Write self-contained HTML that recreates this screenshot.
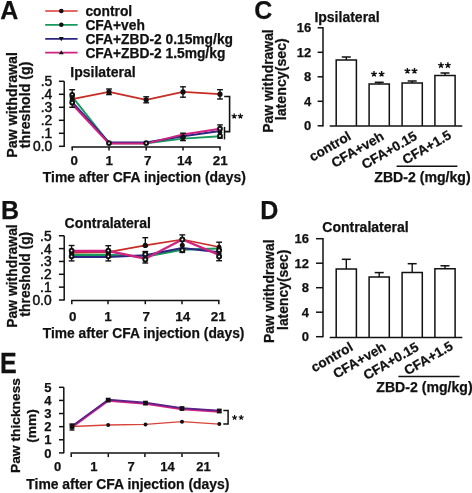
<!DOCTYPE html>
<html><head><meta charset="utf-8"><style>
html,body{margin:0;padding:0;background:#fff;}
body{width:472px;height:493px;overflow:hidden;}
svg{display:block;will-change:transform;font-family:"Liberation Sans",sans-serif;}
text{fill:#111;stroke:#111;stroke-width:0.25px;}
</style></head><body>
<svg width="472" height="493" viewBox="0 0 472 493">
<text x="0.3" y="18.8" font-size="25" text-anchor="start" font-weight="bold" >A</text>
<text x="1.0" y="218.7" font-size="25" text-anchor="start" font-weight="bold" >B</text>
<text x="254.3" y="18.9" font-size="25" text-anchor="start" font-weight="bold" >C</text>
<text x="260.3" y="219.2" font-size="25" text-anchor="start" font-weight="bold" >D</text>
<text x="0" y="373.3" font-size="25" font-weight="bold" transform="translate(0 373.3) scale(1 1.16) translate(0 -373.3)">E</text>
<line x1="45.2" y1="11.0" x2="77.6" y2="11.0" stroke="#d8392e" stroke-width="1.7"/>
<circle cx="61.30" cy="11.00" r="2.3" fill="#111"/>
<text x="85.4" y="15.9" font-size="13.8" text-anchor="start" font-weight="bold" >control</text>
<line x1="45.2" y1="24.8" x2="77.6" y2="24.8" stroke="#17995c" stroke-width="1.7"/>
<circle cx="61.30" cy="24.80" r="2.3" fill="#111"/>
<text x="85.4" y="29.700000000000003" font-size="13.8" text-anchor="start" font-weight="bold" >CFA+veh</text>
<line x1="45.2" y1="38.8" x2="77.6" y2="38.8" stroke="#2c2682" stroke-width="1.7"/>
<polygon points="58.90,37.12 63.70,37.12 61.30,41.20" fill="#111"/>
<text x="85.4" y="43.699999999999996" font-size="13.8" text-anchor="start" font-weight="bold" >CFA+ZBD-2 0.15mg/kg</text>
<line x1="45.2" y1="52.6" x2="77.6" y2="52.6" stroke="#d02282" stroke-width="1.7"/>
<polygon points="58.90,54.28 63.70,54.28 61.30,50.20" fill="#111"/>
<text x="85.4" y="57.5" font-size="13.8" text-anchor="start" font-weight="bold" >CFA+ZBD-2 1.5mg/kg</text>
<line x1="64.2" y1="81.30000000000001" x2="64.2" y2="146.9" stroke="#111" stroke-width="1.5"/>
<line x1="58.900000000000006" y1="146.3" x2="64.2" y2="146.3" stroke="#111" stroke-width="1.5"/>
<text x="52.3" y="151.20000000000002" font-size="13.8" text-anchor="end" font-weight="normal" style="stroke-width:0.5px">0.0</text>
<line x1="58.900000000000006" y1="133.3" x2="64.2" y2="133.3" stroke="#111" stroke-width="1.5"/>
<text x="52.3" y="138.20000000000002" font-size="13.8" text-anchor="end" font-weight="normal" style="stroke-width:0.5px">.1</text>
<line x1="58.900000000000006" y1="120.30000000000001" x2="64.2" y2="120.30000000000001" stroke="#111" stroke-width="1.5"/>
<text x="52.3" y="125.20000000000002" font-size="13.8" text-anchor="end" font-weight="normal" style="stroke-width:0.5px">.2</text>
<line x1="58.900000000000006" y1="107.30000000000001" x2="64.2" y2="107.30000000000001" stroke="#111" stroke-width="1.5"/>
<text x="52.3" y="112.20000000000002" font-size="13.8" text-anchor="end" font-weight="normal" style="stroke-width:0.5px">.3</text>
<line x1="58.900000000000006" y1="94.30000000000001" x2="64.2" y2="94.30000000000001" stroke="#111" stroke-width="1.5"/>
<text x="52.3" y="99.20000000000002" font-size="13.8" text-anchor="end" font-weight="normal" style="stroke-width:0.5px">.4</text>
<line x1="58.900000000000006" y1="81.30000000000001" x2="64.2" y2="81.30000000000001" stroke="#111" stroke-width="1.5"/>
<text x="52.3" y="86.20000000000002" font-size="13.8" text-anchor="end" font-weight="normal" style="stroke-width:0.5px">.5</text>
<line x1="71.5" y1="146.9" x2="220.7" y2="146.9" stroke="#111" stroke-width="1.5"/>
<line x1="72.2" y1="146.9" x2="72.2" y2="150.5" stroke="#111" stroke-width="1.5"/>
<line x1="109.0" y1="146.9" x2="109.0" y2="150.5" stroke="#111" stroke-width="1.5"/>
<line x1="146.2" y1="146.9" x2="146.2" y2="150.5" stroke="#111" stroke-width="1.5"/>
<line x1="183.0" y1="146.9" x2="183.0" y2="150.5" stroke="#111" stroke-width="1.5"/>
<line x1="220.0" y1="146.9" x2="220.0" y2="150.5" stroke="#111" stroke-width="1.5"/>
<text x="74.2" y="164.6" font-size="13.4" text-anchor="middle" font-weight="bold" >0</text>
<text x="109.2" y="164.6" font-size="13.4" text-anchor="middle" font-weight="bold" >1</text>
<text x="147.7" y="164.6" font-size="13.4" text-anchor="middle" font-weight="bold" >7</text>
<text x="184.4" y="164.6" font-size="13.4" text-anchor="middle" font-weight="bold" >14</text>
<text x="220.25" y="164.6" font-size="13.4" text-anchor="middle" font-weight="bold" >21</text>
<text x="42.8" y="182.2" font-size="13.9" text-anchor="start" font-weight="bold" >Time after CFA injection (days)</text>
<text x="70.3" y="77.0" font-size="14" text-anchor="start" font-weight="bold" >Ipsilateral</text>
<text x="17.2" y="104.9" font-size="14.2" font-weight="bold" text-anchor="middle" transform="rotate(-90 17.2 104.9)">Paw withdrawal</text>
<text x="30.2" y="104.9" font-size="14.2" font-weight="bold" text-anchor="middle" transform="rotate(-90 30.2 104.9)">threshold (g)</text>
<polyline points="72.20,96.60 109.00,143.20 146.20,143.20 183.00,138.60 220.00,136.20" fill="none" stroke="#17995c" stroke-width="1.9" stroke-linejoin="round"/>
<polyline points="72.20,102.20 109.00,142.40 146.20,142.40 183.00,136.20 220.00,131.00" fill="none" stroke="#2c2682" stroke-width="2.0" stroke-linejoin="round"/>
<polyline points="72.20,104.20 109.00,143.60 146.20,143.60 183.00,134.40 220.00,128.80" fill="none" stroke="#d02282" stroke-width="2.0" stroke-linejoin="round"/>
<polyline points="72.20,99.20 109.00,91.90 146.20,99.80 183.00,91.90 220.00,94.20" fill="none" stroke="#c82c25" stroke-width="1.7" stroke-linejoin="round"/>
<line x1="72.2" y1="89.7" x2="72.2" y2="107.3" stroke="#111" stroke-width="1.4"/>
<line x1="69.3" y1="89.7" x2="75.10000000000001" y2="89.7" stroke="#111" stroke-width="1.4"/>
<line x1="69.3" y1="107.3" x2="75.10000000000001" y2="107.3" stroke="#111" stroke-width="1.4"/>
<line x1="109.0" y1="89.0" x2="109.0" y2="94.6" stroke="#111" stroke-width="1.4"/>
<line x1="106.1" y1="89.0" x2="111.9" y2="89.0" stroke="#111" stroke-width="1.4"/>
<line x1="106.1" y1="94.6" x2="111.9" y2="94.6" stroke="#111" stroke-width="1.4"/>
<line x1="146.2" y1="96.8" x2="146.2" y2="102.8" stroke="#111" stroke-width="1.4"/>
<line x1="143.29999999999998" y1="96.8" x2="149.1" y2="96.8" stroke="#111" stroke-width="1.4"/>
<line x1="143.29999999999998" y1="102.8" x2="149.1" y2="102.8" stroke="#111" stroke-width="1.4"/>
<line x1="183.0" y1="86.8" x2="183.0" y2="97.2" stroke="#111" stroke-width="1.4"/>
<line x1="180.1" y1="86.8" x2="185.9" y2="86.8" stroke="#111" stroke-width="1.4"/>
<line x1="180.1" y1="97.2" x2="185.9" y2="97.2" stroke="#111" stroke-width="1.4"/>
<line x1="220.0" y1="89.7" x2="220.0" y2="99.0" stroke="#111" stroke-width="1.4"/>
<line x1="217.1" y1="89.7" x2="222.9" y2="89.7" stroke="#111" stroke-width="1.4"/>
<line x1="217.1" y1="99.0" x2="222.9" y2="99.0" stroke="#111" stroke-width="1.4"/>
<circle cx="72.20" cy="95.00" r="1.9" fill="#fff" stroke="#111" stroke-width="2.0"/>
<circle cx="72.20" cy="97.60" r="2.5" fill="#111"/>
<circle cx="72.20" cy="100.20" r="2.5" fill="#111"/>
<circle cx="72.20" cy="102.60" r="1.9" fill="#fff" stroke="#111" stroke-width="2.0"/>
<circle cx="109.00" cy="91.90" r="2.6" fill="#111"/>
<circle cx="146.20" cy="99.80" r="2.6" fill="#111"/>
<circle cx="183.00" cy="91.90" r="2.6" fill="#111"/>
<circle cx="220.00" cy="94.20" r="2.6" fill="#111"/>
<circle cx="109.00" cy="143.10" r="1.9" fill="#fff" stroke="#111" stroke-width="2.0"/>
<circle cx="146.20" cy="143.10" r="1.9" fill="#fff" stroke="#111" stroke-width="2.0"/>
<line x1="183.0" y1="133.2" x2="183.0" y2="140.6" stroke="#111" stroke-width="1.4"/>
<line x1="180.1" y1="133.2" x2="185.9" y2="133.2" stroke="#111" stroke-width="1.4"/>
<line x1="180.1" y1="140.6" x2="185.9" y2="140.6" stroke="#111" stroke-width="1.4"/>
<circle cx="183.00" cy="137.20" r="2.8" fill="#111"/>
<line x1="220.0" y1="124.9" x2="220.0" y2="138.2" stroke="#111" stroke-width="1.4"/>
<line x1="217.2" y1="124.9" x2="222.8" y2="124.9" stroke="#111" stroke-width="1.4"/>
<line x1="217.2" y1="138.2" x2="222.8" y2="138.2" stroke="#111" stroke-width="1.4"/>
<circle cx="220.00" cy="128.70" r="1.9" fill="#fff" stroke="#111" stroke-width="2.0"/>
<circle cx="220.00" cy="132.30" r="2.3" fill="#111"/>
<circle cx="220.00" cy="136.00" r="1.9" fill="#fff" stroke="#111" stroke-width="2.0"/>
<line x1="224.5" y1="126.9" x2="224.5" y2="139.4" stroke="#111" stroke-width="1.5"/>
<polyline points="224.2,96.5 229.6,96.5 229.6,131.6 224.5,131.6" fill="none" stroke="#111" stroke-width="1.6"/>
<path d="M234.20 116.30L234.20 113.60M234.20 116.30L236.77 115.47M234.20 116.30L235.79 118.48M234.20 116.30L232.61 118.48M234.20 116.30L231.63 115.47" stroke="#111" stroke-width="1.3" stroke-linecap="butt" fill="none"/>
<path d="M240.40 116.30L240.40 113.60M240.40 116.30L242.97 115.47M240.40 116.30L241.99 118.48M240.40 116.30L238.81 118.48M240.40 116.30L237.83 115.47" stroke="#111" stroke-width="1.3" stroke-linecap="butt" fill="none"/>
<line x1="64.2" y1="235.75" x2="64.2" y2="300.6" stroke="#111" stroke-width="1.5"/>
<line x1="58.900000000000006" y1="300.0" x2="64.2" y2="300.0" stroke="#111" stroke-width="1.5"/>
<text x="51.6" y="304.9" font-size="13.8" text-anchor="end" font-weight="normal" style="stroke-width:0.5px">0.0</text>
<line x1="58.900000000000006" y1="287.15" x2="64.2" y2="287.15" stroke="#111" stroke-width="1.5"/>
<text x="51.6" y="292.04999999999995" font-size="13.8" text-anchor="end" font-weight="normal" style="stroke-width:0.5px">.1</text>
<line x1="58.900000000000006" y1="274.3" x2="64.2" y2="274.3" stroke="#111" stroke-width="1.5"/>
<text x="51.6" y="279.2" font-size="13.8" text-anchor="end" font-weight="normal" style="stroke-width:0.5px">.2</text>
<line x1="58.900000000000006" y1="261.45" x2="64.2" y2="261.45" stroke="#111" stroke-width="1.5"/>
<text x="51.6" y="266.34999999999997" font-size="13.8" text-anchor="end" font-weight="normal" style="stroke-width:0.5px">.3</text>
<line x1="58.900000000000006" y1="248.6" x2="64.2" y2="248.6" stroke="#111" stroke-width="1.5"/>
<text x="51.6" y="253.5" font-size="13.8" text-anchor="end" font-weight="normal" style="stroke-width:0.5px">.4</text>
<line x1="58.900000000000006" y1="235.75" x2="64.2" y2="235.75" stroke="#111" stroke-width="1.5"/>
<text x="51.6" y="240.65" font-size="13.8" text-anchor="end" font-weight="normal" style="stroke-width:0.5px">.5</text>
<line x1="71.1" y1="300.6" x2="219.5" y2="300.6" stroke="#111" stroke-width="1.5"/>
<line x1="71.8" y1="300.6" x2="71.8" y2="304.2" stroke="#111" stroke-width="1.5"/>
<line x1="108.0" y1="300.6" x2="108.0" y2="304.2" stroke="#111" stroke-width="1.5"/>
<line x1="145.3" y1="300.6" x2="145.3" y2="304.2" stroke="#111" stroke-width="1.5"/>
<line x1="182.0" y1="300.6" x2="182.0" y2="304.2" stroke="#111" stroke-width="1.5"/>
<line x1="218.8" y1="300.6" x2="218.8" y2="304.2" stroke="#111" stroke-width="1.5"/>
<text x="72.65" y="320.8" font-size="13.4" text-anchor="middle" font-weight="bold" >0</text>
<text x="107.95" y="320.8" font-size="13.4" text-anchor="middle" font-weight="bold" >1</text>
<text x="146.15" y="320.8" font-size="13.4" text-anchor="middle" font-weight="bold" >7</text>
<text x="182.7" y="320.8" font-size="13.4" text-anchor="middle" font-weight="bold" >14</text>
<text x="218.2" y="320.8" font-size="13.4" text-anchor="middle" font-weight="bold" >21</text>
<text x="42.8" y="338.2" font-size="13.8" text-anchor="start" font-weight="bold" >Time after CFA injection (days)</text>
<text x="64.6" y="227.8" font-size="14" text-anchor="start" font-weight="bold" >Contralateral</text>
<text x="17.0" y="276.0" font-size="13.9" font-weight="bold" text-anchor="middle" transform="rotate(-90 17.0 276.0)">Paw withdrawal</text>
<text x="30.2" y="274.2" font-size="13.9" font-weight="bold" text-anchor="middle" transform="rotate(-90 30.2 274.2)">threshold (g)</text>
<polyline points="71.60,254.90 108.30,254.90 145.30,256.60 182.30,249.60 219.10,248.50" fill="none" stroke="#17995c" stroke-width="2.1" stroke-linejoin="round"/>
<polyline points="71.60,257.10 108.30,257.10 145.30,255.20 182.30,247.90 219.10,252.20" fill="none" stroke="#2c2682" stroke-width="2.0" stroke-linejoin="round"/>
<polyline points="71.60,252.60 108.30,252.10 145.30,245.40 182.30,239.50 219.10,247.00" fill="none" stroke="#c82c25" stroke-width="1.7" stroke-linejoin="round"/>
<polyline points="71.60,251.00 108.30,251.00 145.30,258.70 182.30,239.50 219.10,254.90" fill="none" stroke="#d02282" stroke-width="2.3" stroke-linejoin="round"/>
<line x1="71.6" y1="245.5" x2="71.6" y2="260.9" stroke="#111" stroke-width="1.4"/>
<line x1="68.69999999999999" y1="245.5" x2="74.5" y2="245.5" stroke="#111" stroke-width="1.4"/>
<line x1="68.69999999999999" y1="260.9" x2="74.5" y2="260.9" stroke="#111" stroke-width="1.4"/>
<line x1="108.3" y1="245.7" x2="108.3" y2="260.9" stroke="#111" stroke-width="1.4"/>
<line x1="105.39999999999999" y1="245.7" x2="111.2" y2="245.7" stroke="#111" stroke-width="1.4"/>
<line x1="105.39999999999999" y1="260.9" x2="111.2" y2="260.9" stroke="#111" stroke-width="1.4"/>
<line x1="145.3" y1="237.7" x2="145.3" y2="246.0" stroke="#111" stroke-width="1.4"/>
<line x1="142.4" y1="237.7" x2="148.20000000000002" y2="237.7" stroke="#111" stroke-width="1.4"/>
<line x1="142.4" y1="246.0" x2="148.20000000000002" y2="246.0" stroke="#111" stroke-width="1.4"/>
<line x1="145.3" y1="251.5" x2="145.3" y2="263.0" stroke="#111" stroke-width="1.4"/>
<line x1="142.4" y1="251.5" x2="148.20000000000002" y2="251.5" stroke="#111" stroke-width="1.4"/>
<line x1="142.4" y1="263.0" x2="148.20000000000002" y2="263.0" stroke="#111" stroke-width="1.4"/>
<line x1="182.3" y1="234.9" x2="182.3" y2="252.4" stroke="#111" stroke-width="1.4"/>
<line x1="179.4" y1="234.9" x2="185.20000000000002" y2="234.9" stroke="#111" stroke-width="1.4"/>
<line x1="179.4" y1="252.4" x2="185.20000000000002" y2="252.4" stroke="#111" stroke-width="1.4"/>
<line x1="219.1" y1="242.2" x2="219.1" y2="260.7" stroke="#111" stroke-width="1.4"/>
<line x1="216.2" y1="242.2" x2="222.0" y2="242.2" stroke="#111" stroke-width="1.4"/>
<line x1="216.2" y1="260.7" x2="222.0" y2="260.7" stroke="#111" stroke-width="1.4"/>
<circle cx="71.60" cy="253.20" r="2.5" fill="#111"/>
<circle cx="71.60" cy="250.60" r="1.9" fill="#fff" stroke="#111" stroke-width="2.0"/>
<circle cx="71.60" cy="256.30" r="1.9" fill="#fff" stroke="#111" stroke-width="2.0"/>
<circle cx="108.30" cy="253.20" r="2.5" fill="#111"/>
<circle cx="108.30" cy="250.60" r="1.9" fill="#fff" stroke="#111" stroke-width="2.0"/>
<circle cx="108.30" cy="256.30" r="1.9" fill="#fff" stroke="#111" stroke-width="2.0"/>
<circle cx="145.30" cy="245.40" r="2.6" fill="#111"/>
<circle cx="145.30" cy="254.20" r="2.0" fill="#fff" stroke="#111" stroke-width="2.0"/>
<circle cx="145.30" cy="259.60" r="2.0" fill="#fff" stroke="#111" stroke-width="2.0"/>
<circle cx="182.30" cy="239.50" r="2.0" fill="#fff" stroke="#111" stroke-width="2.0"/>
<circle cx="182.30" cy="245.20" r="2.5" fill="#111"/>
<circle cx="182.30" cy="250.20" r="2.0" fill="#fff" stroke="#111" stroke-width="2.0"/>
<circle cx="219.10" cy="247.20" r="2.4" fill="#111"/>
<circle cx="219.10" cy="250.30" r="2.0" fill="#fff" stroke="#111" stroke-width="2.0"/>
<circle cx="219.10" cy="253.40" r="2.4" fill="#111"/>
<circle cx="219.10" cy="256.40" r="2.0" fill="#fff" stroke="#111" stroke-width="2.0"/>
<line x1="63.8" y1="387.29999999999995" x2="63.8" y2="453.29999999999995" stroke="#111" stroke-width="1.5"/>
<line x1="59.0" y1="452.9" x2="63.8" y2="452.9" stroke="#111" stroke-width="1.5"/>
<text x="51.5" y="457.5" font-size="13" text-anchor="end" font-weight="bold" >0</text>
<line x1="59.0" y1="439.78" x2="63.8" y2="439.78" stroke="#111" stroke-width="1.5"/>
<text x="51.5" y="444.38" font-size="13" text-anchor="end" font-weight="bold" >1</text>
<line x1="59.0" y1="426.65999999999997" x2="63.8" y2="426.65999999999997" stroke="#111" stroke-width="1.5"/>
<text x="51.5" y="431.26" font-size="13" text-anchor="end" font-weight="bold" >2</text>
<line x1="59.0" y1="413.53999999999996" x2="63.8" y2="413.53999999999996" stroke="#111" stroke-width="1.5"/>
<text x="51.5" y="418.14" font-size="13" text-anchor="end" font-weight="bold" >3</text>
<line x1="59.0" y1="400.41999999999996" x2="63.8" y2="400.41999999999996" stroke="#111" stroke-width="1.5"/>
<text x="51.5" y="405.02" font-size="13" text-anchor="end" font-weight="bold" >4</text>
<line x1="59.0" y1="387.29999999999995" x2="63.8" y2="387.29999999999995" stroke="#111" stroke-width="1.5"/>
<text x="51.5" y="391.9" font-size="13" text-anchor="end" font-weight="bold" >5</text>
<line x1="70.5" y1="453.0" x2="219.29999999999998" y2="453.0" stroke="#111" stroke-width="1.5"/>
<line x1="71.2" y1="453.5" x2="71.2" y2="457.09999999999997" stroke="#111" stroke-width="1.5"/>
<line x1="108.3" y1="453.5" x2="108.3" y2="457.09999999999997" stroke="#111" stroke-width="1.5"/>
<line x1="144.9" y1="453.5" x2="144.9" y2="457.09999999999997" stroke="#111" stroke-width="1.5"/>
<line x1="182.0" y1="453.5" x2="182.0" y2="457.09999999999997" stroke="#111" stroke-width="1.5"/>
<line x1="218.6" y1="453.5" x2="218.6" y2="457.09999999999997" stroke="#111" stroke-width="1.5"/>
<text x="57.6" y="471.1" font-size="13" text-anchor="middle" font-weight="bold" >0</text>
<text x="93.9" y="471.1" font-size="13" text-anchor="middle" font-weight="bold" >1</text>
<text x="131.0" y="471.1" font-size="13" text-anchor="middle" font-weight="bold" >7</text>
<text x="167.6" y="471.1" font-size="13" text-anchor="middle" font-weight="bold" >14</text>
<text x="203.6" y="471.1" font-size="13" text-anchor="middle" font-weight="bold" >21</text>
<text x="26.3" y="489.3" font-size="13.9" text-anchor="start" font-weight="bold" >Time after CFA injection (days)</text>
<text x="0" y="0" font-size="12.6" font-weight="bold" text-anchor="middle" transform="translate(20.3 425.5) scale(1 1.095) rotate(-90)">Paw thickness</text>
<text x="0" y="0" font-size="12.6" font-weight="bold" text-anchor="middle" transform="translate(36.0 425.9) scale(1 1.095) rotate(-90)">(mm)</text>
<polyline points="72.00,426.50 108.20,425.00 145.50,424.40 182.00,421.70 219.30,424.10" fill="none" stroke="#d8443a" stroke-width="1.3" stroke-linejoin="round"/>
<polyline points="72.00,427.00 108.20,400.60 145.50,403.60 182.00,409.00 219.30,411.50" fill="none" stroke="#d02282" stroke-width="2.4" stroke-linejoin="round"/>
<polyline points="72.00,426.10 108.20,399.70 145.50,402.70 182.00,408.10 219.30,410.60" fill="none" stroke="#5a2288" stroke-width="1.7" stroke-linejoin="round"/>
<circle cx="72.00" cy="426.50" r="2.0" fill="#111"/>
<circle cx="108.20" cy="425.00" r="2.0" fill="#111"/>
<circle cx="145.50" cy="424.40" r="2.0" fill="#111"/>
<circle cx="182.00" cy="421.70" r="2.0" fill="#111"/>
<circle cx="219.30" cy="424.10" r="2.0" fill="#111"/>
<rect x="69.60" y="424.10" width="4.8" height="4.8" fill="#111"/>
<rect x="105.80" y="397.70" width="4.8" height="4.8" fill="#111"/>
<rect x="143.10" y="400.70" width="4.8" height="4.8" fill="#111"/>
<rect x="179.60" y="406.10" width="4.8" height="4.8" fill="#111"/>
<rect x="216.90" y="408.60" width="4.8" height="4.8" fill="#111"/>
<line x1="72.0" y1="424.0" x2="72.0" y2="430.0" stroke="#111" stroke-width="1.4"/>
<line x1="69.5" y1="424.0" x2="74.5" y2="424.0" stroke="#111" stroke-width="1.4"/>
<line x1="69.5" y1="430.0" x2="74.5" y2="430.0" stroke="#111" stroke-width="1.4"/>
<polyline points="223.3,410.5 228.1,410.5 228.1,424.0 223.3,424.0" fill="none" stroke="#111" stroke-width="1.5"/>
<path d="M234.60 417.60L234.60 415.00M234.60 417.60L237.07 416.80M234.60 417.60L236.13 419.70M234.60 417.60L233.07 419.70M234.60 417.60L232.13 416.80" stroke="#111" stroke-width="1.15" stroke-linecap="butt" fill="none"/>
<path d="M241.20 417.60L241.20 415.00M241.20 417.60L243.67 416.80M241.20 417.60L242.73 419.70M241.20 417.60L239.67 419.70M241.20 417.60L238.73 416.80" stroke="#111" stroke-width="1.15" stroke-linecap="butt" fill="none"/>
<line x1="323.0" y1="27.099999999999998" x2="323.0" y2="126.39999999999999" stroke="#111" stroke-width="1.5"/>
<line x1="317.6" y1="125.8" x2="323.0" y2="125.8" stroke="#111" stroke-width="1.5"/>
<text x="311.2" y="130.4" font-size="13" text-anchor="end" font-weight="bold" >0</text>
<line x1="317.6" y1="101.3" x2="323.0" y2="101.3" stroke="#111" stroke-width="1.5"/>
<text x="311.2" y="105.89999999999999" font-size="13" text-anchor="end" font-weight="bold" >4</text>
<line x1="317.6" y1="76.8" x2="323.0" y2="76.8" stroke="#111" stroke-width="1.5"/>
<text x="311.2" y="81.39999999999999" font-size="13" text-anchor="end" font-weight="bold" >8</text>
<line x1="317.6" y1="52.3" x2="323.0" y2="52.3" stroke="#111" stroke-width="1.5"/>
<text x="311.2" y="56.9" font-size="13" text-anchor="end" font-weight="bold" >12</text>
<line x1="317.6" y1="27.799999999999997" x2="323.0" y2="27.799999999999997" stroke="#111" stroke-width="1.5"/>
<text x="311.2" y="32.4" font-size="13" text-anchor="end" font-weight="bold" >16</text>
<polyline points="336.2,125.8 336.2,60.1 356.40000000000003,60.1 356.40000000000003,125.8" fill="none" stroke="#111" stroke-width="1.5"/>
<line x1="346.3" y1="60.1" x2="346.3" y2="57.0" stroke="#111" stroke-width="1.4"/>
<line x1="341.8" y1="57.0" x2="350.8" y2="57.0" stroke="#111" stroke-width="1.5"/>
<polyline points="369.09999999999997,125.8 369.09999999999997,84.1 389.3,84.1 389.3,125.8" fill="none" stroke="#111" stroke-width="1.5"/>
<line x1="379.2" y1="84.1" x2="379.2" y2="82.3" stroke="#111" stroke-width="1.4"/>
<line x1="374.7" y1="82.3" x2="383.7" y2="82.3" stroke="#111" stroke-width="1.5"/>
<polyline points="402.09999999999997,125.8 402.09999999999997,83.0 422.3,83.0 422.3,125.8" fill="none" stroke="#111" stroke-width="1.5"/>
<line x1="412.2" y1="83.0" x2="412.2" y2="81.0" stroke="#111" stroke-width="1.4"/>
<line x1="407.7" y1="81.0" x2="416.7" y2="81.0" stroke="#111" stroke-width="1.5"/>
<polyline points="434.9,125.8 434.9,75.6 455.1,75.6 455.1,125.8" fill="none" stroke="#111" stroke-width="1.5"/>
<line x1="445.0" y1="75.6" x2="445.0" y2="73.0" stroke="#111" stroke-width="1.4"/>
<line x1="440.5" y1="73.0" x2="449.5" y2="73.0" stroke="#111" stroke-width="1.5"/>
<line x1="329.7" y1="125.89999999999999" x2="462.3" y2="125.89999999999999" stroke="#111" stroke-width="1.5"/>
<path d="M374.00 74.00L374.00 71.00M374.00 74.00L376.85 73.07M374.00 74.00L375.76 76.43M374.00 74.00L372.24 76.43M374.00 74.00L371.15 73.07" stroke="#111" stroke-width="1.4" stroke-linecap="butt" fill="none"/>
<path d="M381.60 74.00L381.60 71.00M381.60 74.00L384.45 73.07M381.60 74.00L383.36 76.43M381.60 74.00L379.84 76.43M381.60 74.00L378.75 73.07" stroke="#111" stroke-width="1.4" stroke-linecap="butt" fill="none"/>
<path d="M407.40 70.90L407.40 67.90M407.40 70.90L410.25 69.97M407.40 70.90L409.16 73.33M407.40 70.90L405.64 73.33M407.40 70.90L404.55 69.97" stroke="#111" stroke-width="1.4" stroke-linecap="butt" fill="none"/>
<path d="M414.50 70.90L414.50 67.90M414.50 70.90L417.35 69.97M414.50 70.90L416.26 73.33M414.50 70.90L412.74 73.33M414.50 70.90L411.65 69.97" stroke="#111" stroke-width="1.4" stroke-linecap="butt" fill="none"/>
<path d="M441.00 65.30L441.00 62.30M441.00 65.30L443.85 64.37M441.00 65.30L442.76 67.73M441.00 65.30L439.24 67.73M441.00 65.30L438.15 64.37" stroke="#111" stroke-width="1.4" stroke-linecap="butt" fill="none"/>
<path d="M447.90 65.30L447.90 62.30M447.90 65.30L450.75 64.37M447.90 65.30L449.66 67.73M447.90 65.30L446.14 67.73M447.90 65.30L445.05 64.37" stroke="#111" stroke-width="1.4" stroke-linecap="butt" fill="none"/>
<text x="314.4" y="21.5" font-size="14" text-anchor="start" font-weight="bold" >Ipsilateral</text>
<text x="352.1" y="138.8" font-size="13.5" font-weight="bold" text-anchor="end" transform="rotate(-30 352.1 138.8)">control</text>
<text x="385.0" y="138.8" font-size="13.5" font-weight="bold" text-anchor="end" transform="rotate(-30 385.0 138.8)">CFA+veh</text>
<text x="418.0" y="138.8" font-size="13.5" font-weight="bold" text-anchor="end" transform="rotate(-30 418.0 138.8)">CFA+0.15</text>
<text x="452.2" y="137.8" font-size="13.5" font-weight="bold" text-anchor="end" transform="rotate(-30 452.2 137.8)">CFA+1.5</text>
<line x1="323.0" y1="238.0" x2="323.0" y2="337.3" stroke="#111" stroke-width="1.5"/>
<line x1="316.0" y1="336.7" x2="323.0" y2="336.7" stroke="#111" stroke-width="1.5"/>
<text x="308.9" y="341.3" font-size="13" text-anchor="end" font-weight="bold" >0</text>
<line x1="316.0" y1="312.2" x2="323.0" y2="312.2" stroke="#111" stroke-width="1.5"/>
<text x="308.9" y="316.8" font-size="13" text-anchor="end" font-weight="bold" >4</text>
<line x1="316.0" y1="287.7" x2="323.0" y2="287.7" stroke="#111" stroke-width="1.5"/>
<text x="308.9" y="292.3" font-size="13" text-anchor="end" font-weight="bold" >8</text>
<line x1="316.0" y1="263.2" x2="323.0" y2="263.2" stroke="#111" stroke-width="1.5"/>
<text x="308.9" y="267.8" font-size="13" text-anchor="end" font-weight="bold" >12</text>
<line x1="316.0" y1="238.7" x2="323.0" y2="238.7" stroke="#111" stroke-width="1.5"/>
<text x="308.9" y="243.29999999999998" font-size="13" text-anchor="end" font-weight="bold" >16</text>
<polyline points="336.2,337.3 336.2,269.1 356.40000000000003,269.1 356.40000000000003,337.3" fill="none" stroke="#111" stroke-width="1.5"/>
<line x1="346.3" y1="269.1" x2="346.3" y2="259.3" stroke="#111" stroke-width="1.4"/>
<line x1="341.8" y1="259.3" x2="350.8" y2="259.3" stroke="#111" stroke-width="1.5"/>
<polyline points="369.09999999999997,337.3 369.09999999999997,277.1 389.3,277.1 389.3,337.3" fill="none" stroke="#111" stroke-width="1.5"/>
<line x1="379.2" y1="277.1" x2="379.2" y2="272.6" stroke="#111" stroke-width="1.4"/>
<line x1="374.7" y1="272.6" x2="383.7" y2="272.6" stroke="#111" stroke-width="1.5"/>
<polyline points="402.09999999999997,337.3 402.09999999999997,272.6 422.3,272.6 422.3,337.3" fill="none" stroke="#111" stroke-width="1.5"/>
<line x1="412.2" y1="272.6" x2="412.2" y2="263.7" stroke="#111" stroke-width="1.4"/>
<line x1="407.7" y1="263.7" x2="416.7" y2="263.7" stroke="#111" stroke-width="1.5"/>
<polyline points="434.9,337.3 434.9,268.8 455.1,268.8 455.1,337.3" fill="none" stroke="#111" stroke-width="1.5"/>
<line x1="445.0" y1="268.8" x2="445.0" y2="265.8" stroke="#111" stroke-width="1.4"/>
<line x1="440.5" y1="265.8" x2="449.5" y2="265.8" stroke="#111" stroke-width="1.5"/>
<line x1="329.7" y1="337.40000000000003" x2="462.3" y2="337.40000000000003" stroke="#111" stroke-width="1.5"/>
<text x="322.3" y="232.3" font-size="14" text-anchor="start" font-weight="bold" >Contralateral</text>
<text x="353.90000000000003" y="349.70000000000005" font-size="13.5" font-weight="bold" text-anchor="end" transform="rotate(-30 353.90000000000003 349.70000000000005)">control</text>
<text x="386.8" y="349.70000000000005" font-size="13.5" font-weight="bold" text-anchor="end" transform="rotate(-30 386.8 349.70000000000005)">CFA+veh</text>
<text x="419.8" y="349.70000000000005" font-size="13.5" font-weight="bold" text-anchor="end" transform="rotate(-30 419.8 349.70000000000005)">CFA+0.15</text>
<text x="454.0" y="348.70000000000005" font-size="13.5" font-weight="bold" text-anchor="end" transform="rotate(-30 454.0 348.70000000000005)">CFA+1.5</text>
<line x1="396.6" y1="166.2" x2="457.4" y2="166.2" stroke="#111" stroke-width="1.5"/>
<text x="374.3" y="181.6" font-size="14.1" text-anchor="start" font-weight="bold" >ZBD-2 (mg/kg)</text>
<line x1="398.4" y1="376.6" x2="459.6" y2="376.6" stroke="#111" stroke-width="1.5"/>
<text x="376.3" y="392.0" font-size="14.1" text-anchor="start" font-weight="bold" >ZBD-2 (mg/kg)</text>
<text x="273.0" y="81.0" font-size="13.9" font-weight="bold" text-anchor="middle" transform="rotate(-90 273.0 81.0)">Paw withdrawal</text>
<text x="286.4" y="79.2" font-size="14.2" font-weight="bold" text-anchor="middle" transform="rotate(-90 286.4 79.2)">latency(sec)</text>
<text x="273.8" y="291.2" font-size="13.9" font-weight="bold" text-anchor="middle" transform="rotate(-90 273.8 291.2)">Paw withdrawal</text>
<text x="288.2" y="289.8" font-size="13.9" font-weight="bold" text-anchor="middle" transform="rotate(-90 288.2 289.8)">latency(sec)</text>
</svg>
</body></html>
